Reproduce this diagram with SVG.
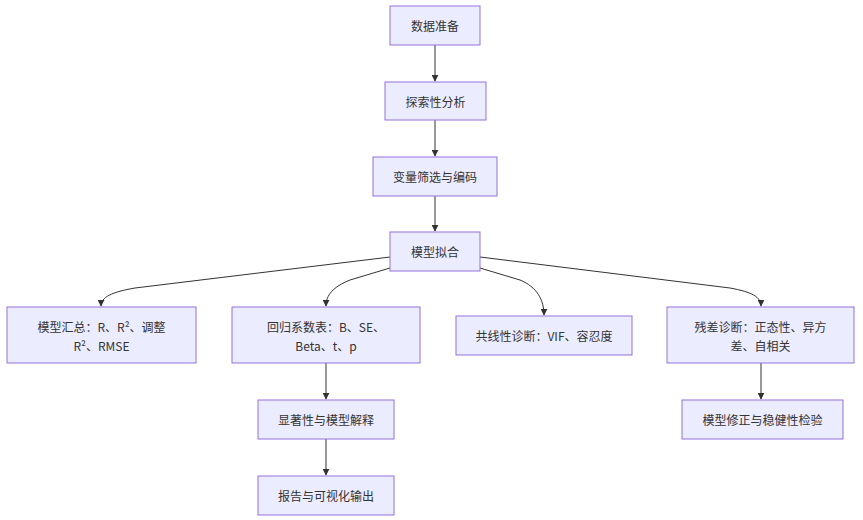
<svg xmlns="http://www.w3.org/2000/svg" width="863" height="520" viewBox="0 0 863 520">
<defs>
<marker id="arr" viewBox="0 0 10 10" refX="9" refY="5" markerWidth="7" markerHeight="7" orient="auto-start-reverse" markerUnits="userSpaceOnUse">
<path d="M0,0 L10,5 L0,10 z" fill="#333"/>
</marker>
<style>
.n{fill:#ECECFF;stroke:#9370DB;stroke-width:1}
.t{font-family:"Noto Sans CJK SC","Liberation Sans",sans-serif;font-size:12px;fill:#333;text-anchor:middle;dominant-baseline:central}
.e{fill:none;stroke:#333;stroke-width:1;marker-end:url(#arr)}
</style>
</defs>
<rect width="863" height="520" fill="#fff"/>
<g id="connectors">
<path class="e" d="M435,45 L435,81"/>
<path class="e" d="M435,120 L435,156"/>
<path class="e" d="M435,196 L435,231"/>
<path class="e" d="M390,257 L135,288 C112,292 101,297 101,306"/>
<path class="e" d="M390,268 L350,280 C333,287 326,295 326,306"/>
<path class="e" d="M480,268 L520,280 C537,287 544,300 544,315"/>
<path class="e" d="M480,257 L730,288 C752,292 761,297 761,306"/>
<path class="e" d="M326,363 L326,399"/>
<path class="e" d="M326,439 L326,475"/>
<path class="e" d="M761,363 L761,399"/>
</g>
<g id="n1"><rect class="n" x="390" y="6" width="90" height="39"/><text class="t" x="435" y="25.5">数据准备</text></g>
<g id="n2"><rect class="n" x="385" y="82" width="101" height="38"/><text class="t" x="435.5" y="101">探索性分析</text></g>
<g id="n3"><rect class="n" x="373" y="157" width="124" height="39"/><text class="t" x="435" y="176.5">变量筛选与编码</text></g>
<g id="n4"><rect class="n" x="390" y="232" width="90" height="39"/><text class="t" x="435" y="251.5">模型拟合</text></g>
<g id="n5"><rect class="n" x="7" y="307" width="189" height="56"/><text class="t" x="101.5" y="326">模型汇总：R、R²、调整</text><text class="t" x="101.5" y="345">R²、RMSE</text></g>
<g id="n6"><rect class="n" x="232" y="307" width="188" height="56"/><text class="t" x="326" y="326">回归系数表：B、SE、</text><text class="t" x="326" y="345">Beta、t、p</text></g>
<g id="n7"><rect class="n" x="456" y="316" width="176" height="39"/><text class="t" x="544" y="335.5">共线性诊断：VIF、容忍度</text></g>
<g id="n8"><rect class="n" x="667" y="307" width="187" height="56"/><text class="t" x="760.5" y="326">残差诊断：正态性、异方</text><text class="t" x="760.5" y="345">差、自相关</text></g>
<g id="n9"><rect class="n" x="682" y="400" width="161" height="39"/><text class="t" x="762.5" y="419.5">模型修正与稳健性检验</text></g>
<g id="n10"><rect class="n" x="258" y="400" width="136" height="39"/><text class="t" x="326" y="419.5">显著性与模型解释</text></g>
<g id="n11"><rect class="n" x="258" y="476" width="136" height="39"/><text class="t" x="326" y="495.5">报告与可视化输出</text></g>
</svg>
